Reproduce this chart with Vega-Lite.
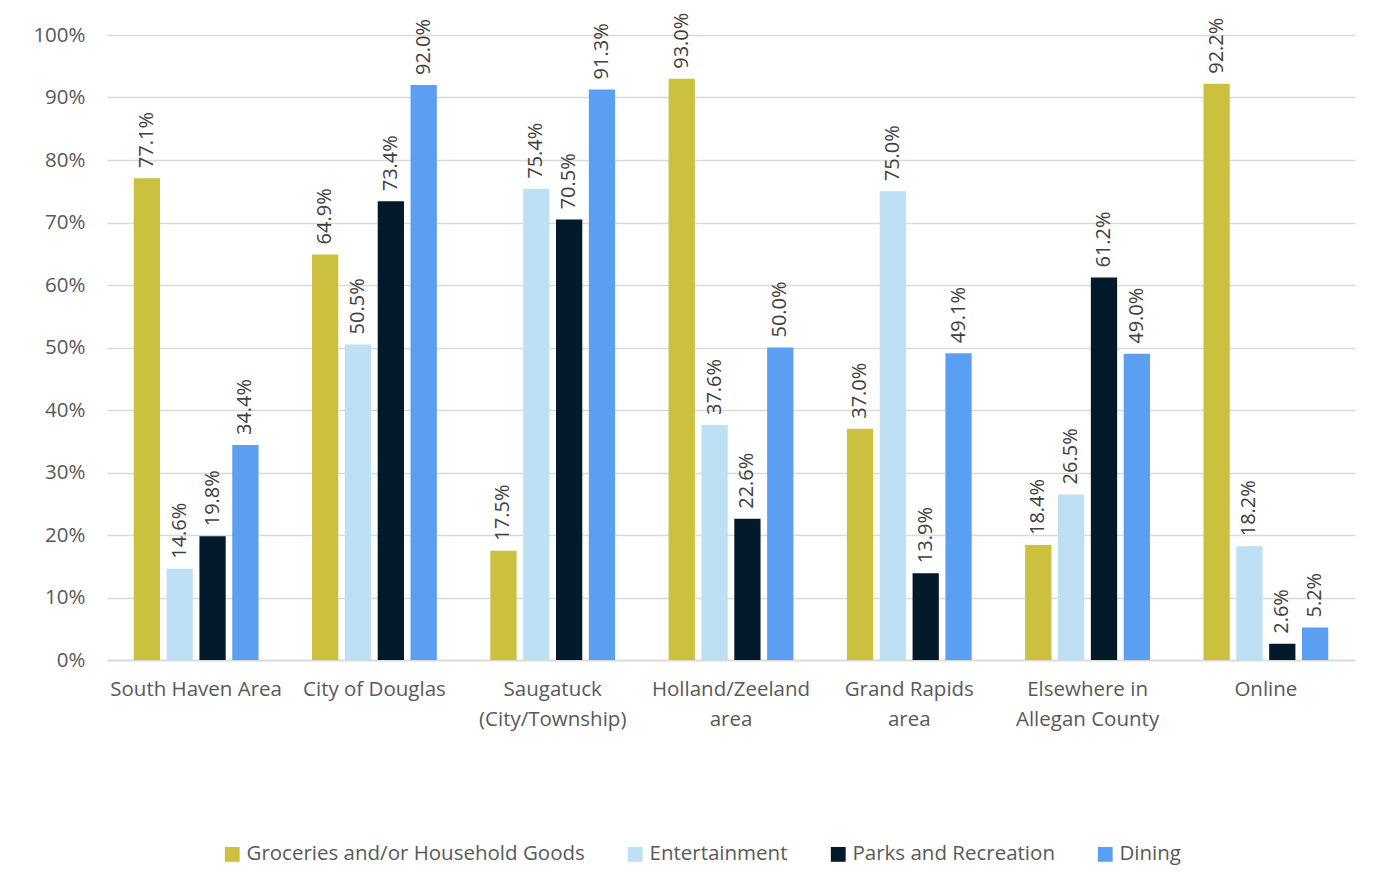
{
  "$schema": "https://vega.github.io/schema/vega-lite/v6.json",
  "width": 1248,
  "height": 625,
  "autosize": {"type": "none"},
  "padding": {"left": 107, "top": 35, "right": 38, "bottom": 228},
  "background": "white",
  "config": {
    "view": {"stroke": null},
    "font": "Open Sans",
    "axis": {"labelFont": "Open Sans", "labelColor": "#595959"},
    "legend": {"labelFont": "Open Sans", "labelColor": "#595959"}
  },
  "data": {
    "values": [
      {"location": "South Haven Area", "category": "Groceries and/or Household Goods", "value": 0.771},
      {"location": "South Haven Area", "category": "Entertainment", "value": 0.146},
      {"location": "South Haven Area", "category": "Parks and Recreation", "value": 0.198},
      {"location": "South Haven Area", "category": "Dining", "value": 0.344},
      {"location": "City of Douglas", "category": "Groceries and/or Household Goods", "value": 0.649},
      {"location": "City of Douglas", "category": "Entertainment", "value": 0.505},
      {"location": "City of Douglas", "category": "Parks and Recreation", "value": 0.734},
      {"location": "City of Douglas", "category": "Dining", "value": 0.920},
      {"location": "Saugatuck (City/Township)", "category": "Groceries and/or Household Goods", "value": 0.175},
      {"location": "Saugatuck (City/Township)", "category": "Entertainment", "value": 0.754},
      {"location": "Saugatuck (City/Township)", "category": "Parks and Recreation", "value": 0.705},
      {"location": "Saugatuck (City/Township)", "category": "Dining", "value": 0.913},
      {"location": "Holland/Zeeland area", "category": "Groceries and/or Household Goods", "value": 0.930},
      {"location": "Holland/Zeeland area", "category": "Entertainment", "value": 0.376},
      {"location": "Holland/Zeeland area", "category": "Parks and Recreation", "value": 0.226},
      {"location": "Holland/Zeeland area", "category": "Dining", "value": 0.500},
      {"location": "Grand Rapids area", "category": "Groceries and/or Household Goods", "value": 0.370},
      {"location": "Grand Rapids area", "category": "Entertainment", "value": 0.750},
      {"location": "Grand Rapids area", "category": "Parks and Recreation", "value": 0.139},
      {"location": "Grand Rapids area", "category": "Dining", "value": 0.491},
      {"location": "Elsewhere in Allegan County", "category": "Groceries and/or Household Goods", "value": 0.184},
      {"location": "Elsewhere in Allegan County", "category": "Entertainment", "value": 0.265},
      {"location": "Elsewhere in Allegan County", "category": "Parks and Recreation", "value": 0.612},
      {"location": "Elsewhere in Allegan County", "category": "Dining", "value": 0.490},
      {"location": "Online", "category": "Groceries and/or Household Goods", "value": 0.922},
      {"location": "Online", "category": "Entertainment", "value": 0.182},
      {"location": "Online", "category": "Parks and Recreation", "value": 0.026},
      {"location": "Online", "category": "Dining", "value": 0.052}
    ]
  },
  "encoding": {
    "x": {
      "field": "location",
      "type": "nominal",
      "sort": null,
      "title": null,
      "scale": {"paddingInner": 0.3, "paddingOuter": 0.15},
      "axis": {
        "labelAngle": 0,
        "labelFontSize": 20.5,
        "labelPadding": 19,
        "labelLineHeight": 30,
        "labelBaseline": "top",
        "labelLimit": 300,
        "ticks": false,
        "domain": true,
        "domainColor": "#d9d9d9",
        "domainWidth": 1.5,
        "labelExpr": "datum.label == 'Saugatuck (City/Township)' ? ['Saugatuck', '(City/Township)'] : datum.label == 'Holland/Zeeland area' ? ['Holland/Zeeland', 'area'] : datum.label == 'Grand Rapids area' ? ['Grand Rapids', 'area'] : datum.label == 'Elsewhere in Allegan County' ? ['Elsewhere in', 'Allegan County'] : datum.label"
      }
    },
    "xOffset": {
      "field": "category",
      "type": "nominal",
      "sort": ["Groceries and/or Household Goods", "Entertainment", "Parks and Recreation", "Dining"],
      "scale": {"paddingInner": 0.2, "paddingOuter": 0}
    },
    "y": {
      "field": "value",
      "type": "quantitative",
      "title": null,
      "scale": {"domain": [0, 1], "nice": false},
      "axis": {
        "format": ".0%",
        "values": [0, 0.1, 0.2, 0.3, 0.4, 0.5, 0.6, 0.7, 0.8, 0.9, 1],
        "labelFontSize": 20.5,
        "labelPadding": 22,
        "labelOverlap": false,
        "ticks": false,
        "domain": false,
        "gridColor": "#d9d9d9",
        "gridWidth": 1.5
      }
    }
  },
  "layer": [
    {
      "mark": {"type": "bar"},
      "encoding": {
        "color": {
          "field": "category",
          "type": "nominal",
          "scale": {
            "domain": ["Groceries and/or Household Goods", "Entertainment", "Parks and Recreation", "Dining"],
            "range": ["#CCC03F", "#BDE0F5", "#031A2B", "#5B9FF3"]
          },
          "legend": {
            "title": null,
            "orient": "none",
            "legendX": 115,
            "legendY": 809,
            "direction": "horizontal",
            "symbolType": "square",
            "symbolSize": 220,
            "symbolStrokeWidth": 0,
            "labelFontSize": 20.5,
            "labelLimit": 500,
            "labelOffset": 4,
            "columnPadding": 40
          }
        }
      }
    },
    {
      "mark": {"type": "text", "angle": 270, "align": "left", "baseline": "middle", "dx": 10, "fontSize": 20, "color": "#404040", "font": "Open Sans"},
      "encoding": {
        "text": {"field": "value", "type": "quantitative", "format": ".1%"}
      }
    }
  ]
}
